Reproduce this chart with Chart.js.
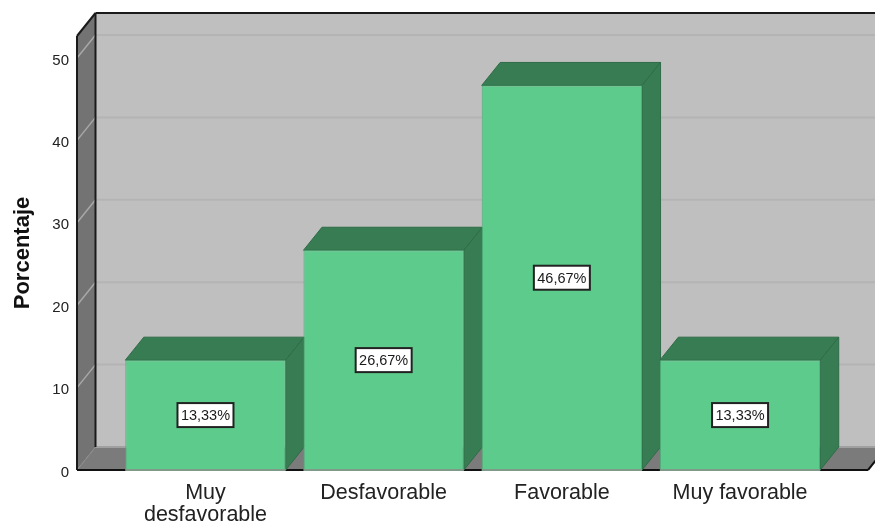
<!DOCTYPE html>
<html lang="es">
<head>
  <meta charset="UTF-8" />
  <title>Porcentaje</title>
  <script src="https://cdn.jsdelivr.net/npm/chart.js"></script>
  <style>
    html, body { margin: 0; background: #fff; }
    #wrap { width: 875px; height: 523px; }
  </style>
</head>
<body>
<div id="wrap"><canvas id="chart" width="875" height="523"></canvas></div>
<script>
  const categories = [['Muy', 'desfavorable'], 'Desfavorable', 'Favorable', 'Muy favorable'];
  const positions = [0, 1, 2, 3];
  const porcentajes = [13.33, 26.67, 46.67, 13.33];
  const yTicks = [0, 10, 20, 30, 40, 50];

  // depth of the fake 3D box, in px
  const DX = 18.5, DY = -23;
  const FONT = '"Liberation Sans", Arial, sans-serif';

  function poly(ctx, pts, fill, stroke, lw) {
    ctx.beginPath();
    pts.forEach((p, i) => i ? ctx.lineTo(p[0], p[1]) : ctx.moveTo(p[0], p[1]));
    ctx.closePath();
    if (fill) { ctx.fillStyle = fill; ctx.fill(); }
    if (stroke) { ctx.strokeStyle = stroke; ctx.lineWidth = lw || 1; ctx.stroke(); }
  }
  function line(ctx, x1, y1, x2, y2, color, lw) {
    ctx.beginPath();
    ctx.moveTo(x1, y1);
    ctx.lineTo(x2, y2);
    ctx.strokeStyle = color;
    ctx.lineWidth = lw;
    ctx.stroke();
  }

  const box3d = {
    id: 'box3d',
    beforeDatasetsDraw(chart) {
      const { ctx, chartArea: a, scales } = chart;
      const y = scales.y;
      ctx.save();
      // back wall, runs off the right edge
      poly(ctx, [[a.left + DX, a.top + DY], [a.right + DX, a.top + DY], [a.right + DX, a.bottom + DY], [a.left + DX, a.bottom + DY]], '#bfbfbf');
      // left wall and floor
      poly(ctx, [[a.left, a.top], [a.left + DX, a.top + DY], [a.left + DX, a.bottom + DY], [a.left, a.bottom]], '#737373');
      poly(ctx, [[a.left, a.bottom], [a.left + DX, a.bottom + DY], [a.right + DX, a.bottom + DY], [a.right, a.bottom]], '#7b7b7b');
      line(ctx, a.left + DX, a.bottom + DY, a.right + DX, a.bottom + DY, '#a0a0a0', 2);
      line(ctx, a.left, a.bottom, a.left + DX, a.bottom + DY, '#8c8c8c', 1);
      // grid lines
      yTicks.slice(1).forEach(t => {
        const py = y.getPixelForValue(t);
        line(ctx, a.left, py, a.left + DX, py + DY, '#a8a8a8', 1.5);
        line(ctx, a.left + DX, py + DY, a.right + DX, py + DY, '#b4b4b4', 2);
      });
      // black edges
      line(ctx, a.left, a.bottom, a.left, a.top, '#1a1a1a', 2);
      line(ctx, a.left, a.top, a.left + DX, a.top + DY, '#1a1a1a', 2);
      line(ctx, a.left + DX, a.top + DY, a.right + DX, a.top + DY, '#1a1a1a', 2);
      line(ctx, a.left + DX, a.top + DY, a.left + DX, a.bottom + DY, '#1a1a1a', 2);
      line(ctx, a.left, a.bottom, a.right, a.bottom, '#111', 2);
      line(ctx, a.right, a.bottom, a.right + DX, a.bottom + DY, '#111', 2);
      // top and side faces of each bar
      chart.getDatasetMeta(0).data.forEach(b => {
        const l = b.x - b.width / 2, r = b.x + b.width / 2;
        poly(ctx, [[l, b.y], [l + DX, b.y + DY], [r + DX, b.y + DY], [r, b.y]], '#377c52', '#2f6c48', 1);
        poly(ctx, [[r, b.y], [r + DX, b.y + DY], [r + DX, b.base + DY], [r, b.base]], '#377c52', '#2f6c48', 1);
      });
      ctx.restore();
    },
    afterDatasetsDraw(chart) {
      const { ctx, scales } = chart;
      ctx.save();
      ctx.font = '14.5px ' + FONT;
      ctx.textAlign = 'center';
      ctx.textBaseline = 'middle';
      chart.getDatasetMeta(0).data.forEach((b, i) => {
        const v = porcentajes[i];
        const cy = scales.y.getPixelForValue(v / 2);
        ctx.fillStyle = '#fff';
        ctx.fillRect(b.x - 28, cy - 12, 56, 24);
        ctx.strokeStyle = '#222';
        ctx.lineWidth = 2;
        ctx.strokeRect(b.x - 28, cy - 12, 56, 24);
        ctx.fillStyle = '#1a1a1a';
        ctx.fillText(v.toFixed(2).replace('.', ',') + '%', b.x, cy + 1);
      });
      // thin grey foot under the bars
      chart.getDatasetMeta(0).data.forEach(b => {
        line(ctx, b.x - b.width / 2, b.base, b.x + b.width / 2, b.base, '#7f9a88', 2);
      });
      ctx.restore();
    }
  };

  new Chart(document.getElementById('chart'), {
    type: 'bar',
    data: {
      datasets: [{
        label: 'Porcentaje',
        data: positions.map((p, i) => ({ x: p, y: porcentajes[i] })),
        backgroundColor: '#5ccb8c',
        borderColor: '#4fae78',
        borderWidth: 1,
        categoryPercentage: 1,
        barPercentage: 0.9
      }]
    },
    options: {
      responsive: false,
      animation: false,
      layout: { padding: { top: 36, right: 7, left: 0, bottom: 0 } },
      plugins: { legend: { display: false }, tooltip: { enabled: false } },
      scales: {
        x: {
          type: 'linear',
          offset: false,
          min: -0.721,
          max: 3.718,
          grid: { display: false, offset: false },
          border: { display: false },
          afterBuildTicks: s => { s.ticks = positions.map(p => ({ value: p })); },
          afterFit: s => { s.height = 53; },
          ticks: {
            autoSkip: false,
            maxRotation: 0,
            padding: 4,
            color: '#222',
            font: { family: FONT, size: 21.5, lineHeight: '22px' },
            callback: v => categories[v]
          }
        },
        y: {
          min: 0,
          max: 52.67,
          grid: { display: false },
          border: { display: false },
          afterFit: s => { s.width = 77; },
          afterBuildTicks: s => { s.ticks = yTicks.map(v => ({ value: v })); },
          ticks: {
            padding: 0,
            color: '#222',
            // empty first line pushes the number 2px below its grid line, as in the original
            font: { family: FONT, size: 15, lineHeight: '5px' },
            callback: v => ['', String(v)]
          },
          title: {
            display: true,
            text: 'Porcentaje',
            color: '#111',
            padding: { top: 10, bottom: 0 },
            font: { family: FONT, size: 22, weight: 'bold' }
          }
        }
      }
    },
    plugins: [box3d]
  });
</script>
</body>
</html>
